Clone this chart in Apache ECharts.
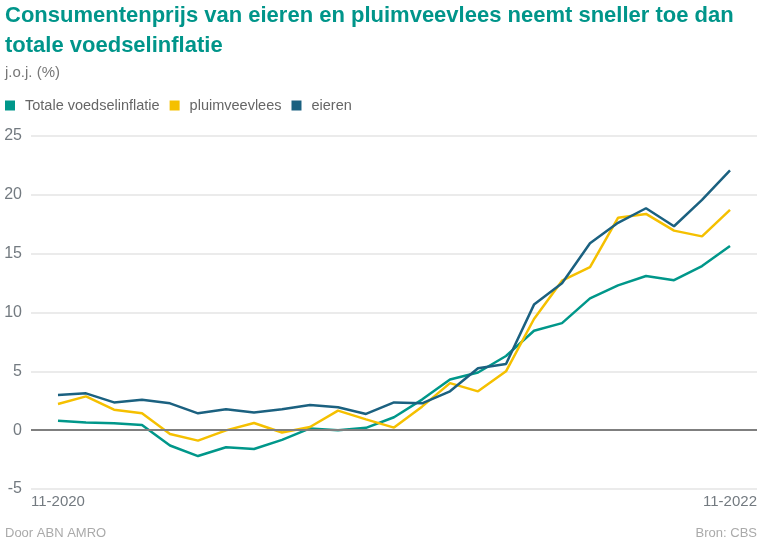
<!DOCTYPE html>
<html>
<head>
<meta charset="utf-8">
<script src="https://cdn.jsdelivr.net/npm/echarts@6/dist/echarts.min.js"></script>
<style>
html,body{margin:0;padding:0;background:#fff;}
#chart{width:765px;height:549px;}
</style>
</head>
<body>
<div id="chart"></div>
<script>
var months = ['11-2020','12-2020','01-2021','02-2021','03-2021','04-2021','05-2021','06-2021','07-2021','08-2021','09-2021','10-2021','11-2021','12-2021','01-2022','02-2022','03-2022','04-2022','05-2022','06-2022','07-2022','08-2022','09-2022','10-2022','11-2022'];
var seriesNames = ['Totale voedselinflatie', 'pluimveevlees', 'eieren'];
var totaleVoedsel = [0.8, 0.66, 0.58, 0.44, -1.3, -2.2, -1.45, -1.6, -0.82, 0.15, 0.0, 0.2, 1.1, 2.6, 4.3, 4.9, 6.3, 8.45, 9.1, 11.2, 12.3, 13.1, 12.75, 13.95, 15.65];
var pluimveevlees = [2.23, 2.87, 1.74, 1.43, -0.32, -0.89, -0.02, 0.61, -0.2, 0.27, 1.66, 0.92, 0.22, 2.0, 4.0, 3.3, 5.0, 9.45, 12.7, 13.85, 18.05, 18.38, 16.96, 16.47, 18.72];
var eieren = [2.99, 3.13, 2.36, 2.59, 2.28, 1.43, 1.77, 1.51, 1.77, 2.14, 1.94, 1.38, 2.36, 2.28, 3.3, 5.26, 5.63, 10.67, 12.48, 15.88, 17.62, 18.86, 17.33, 19.57, 22.07];
var yTicks = [-5, 0, 5, 10, 15, 20, 25];
var xLabelIdx = [0, 24];

var colors = ['#00978a', '#f5c000', '#1b6180'];

function toPairs(arr) { return arr.map(function (v, i) { return [i, v]; }); }

var chart = echarts.init(document.getElementById('chart'), null, {renderer: 'canvas'});
var font = '"Liberation Sans", Arial, sans-serif';
chart.setOption({
  animation: false,
  textStyle: {fontFamily: font},
  title: [
    {text: 'Consumentenprijs van eieren en pluimveevlees neemt sneller toe dan\ntotale voedselinflatie', left: 0, top: -4,
     textStyle: {fontFamily: font, fontSize: 22, fontWeight: 'bold', color: '#00958a', lineHeight: 30}},
    {text: 'j.o.j. (%)', left: 0, top: 60, textStyle: {fontFamily: font, fontSize: 15, fontWeight: 'normal', color: '#777'}},
    {text: 'Door ABN AMRO', left: 0, top: 522, textStyle: {fontFamily: font, fontSize: 13, fontWeight: 'normal', color: '#aaa'}},
    {text: 'Bron: CBS', right: 3, top: 522, textStyle: {fontFamily: font, fontSize: 13, fontWeight: 'normal', color: '#aaa'}}
  ],
  legend: {
    left: 0, top: 93, icon: 'rect', itemWidth: 10, itemHeight: 10, itemGap: 10,
    textStyle: {fontFamily: font, fontSize: 14.5, color: '#666', padding: [0, 0, 0, 5]},
    data: seriesNames
  },
  grid: {left: 31, right: 8, top: 136, bottom: 60},
  xAxis: {
    type: 'value', min: -0.964, max: 24.964,
    axisLine: {show: false}, axisTick: {show: false}, splitLine: {show: false},
    axisLabel: {
      customValues: xLabelIdx, margin: 5,
      fontFamily: font, fontSize: 15, color: '#737a80',
      formatter: function (v) { return months[Math.round(v)]; }
    }
  },
  yAxis: {
    type: 'value', min: yTicks[0], max: yTicks[yTicks.length - 1], interval: 5,
    axisLine: {show: false}, axisTick: {show: false},
    axisLabel: {margin: 9, fontFamily: font, fontSize: 16, color: '#737a80'},
    splitLine: {lineStyle: {color: '#ebebeb', width: 2}}
  },
  series: [
    {name: seriesNames[0], type: 'line', data: toPairs(totaleVoedsel), symbol: 'none', color: colors[0], lineStyle: {width: 2.5},
     markLine: {silent: true, symbol: 'none', label: {show: false}, lineStyle: {color: '#7f7f7f', width: 2, type: 'solid'}, data: [{yAxis: 0}]}},
    {name: seriesNames[1], type: 'line', data: toPairs(pluimveevlees), symbol: 'none', color: colors[1], lineStyle: {width: 2.5}},
    {name: seriesNames[2], type: 'line', data: toPairs(eieren), symbol: 'none', color: colors[2], lineStyle: {width: 2.5}}
  ]
});
</script>
</body>
</html>
